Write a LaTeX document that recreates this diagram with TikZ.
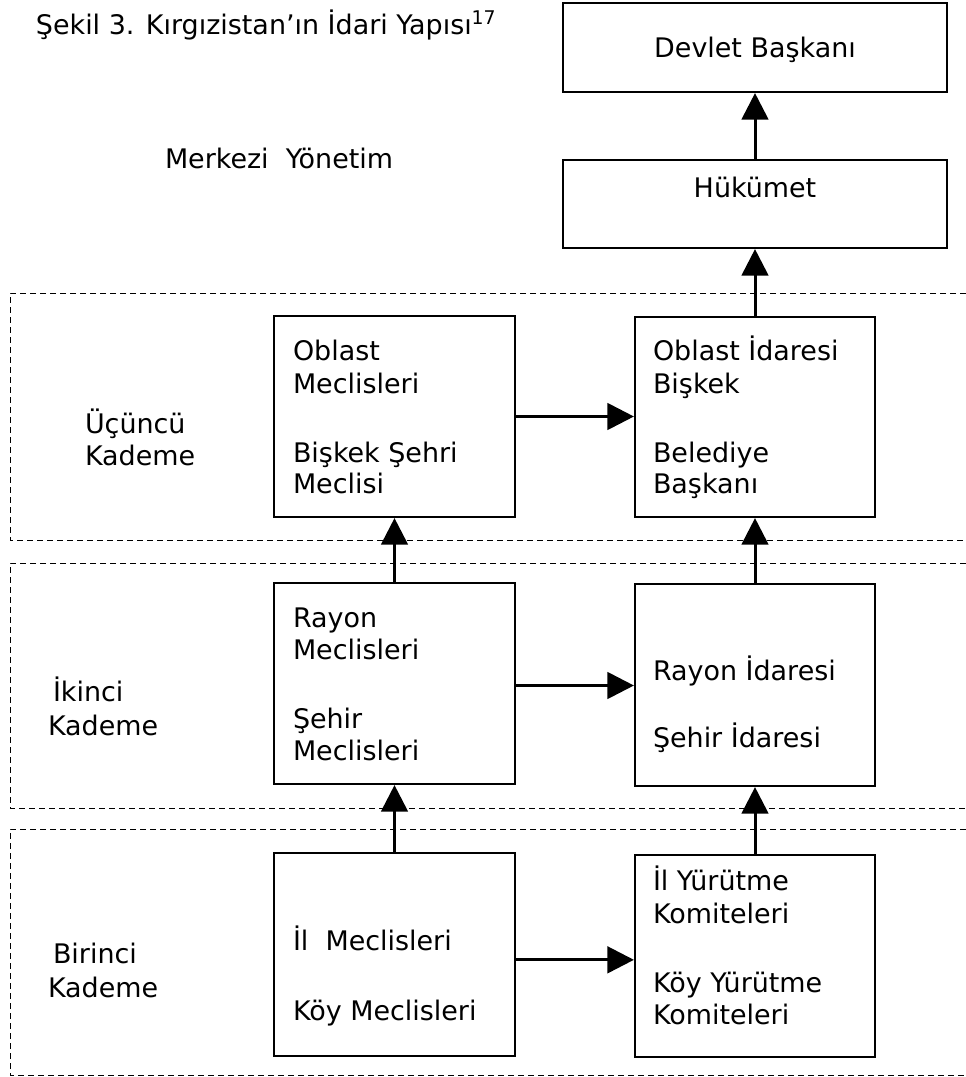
\documentclass[tikz,border=0pt]{standalone}
\usepackage{fontspec}
\setmainfont{DejaVu Sans}
\usetikzlibrary{arrows.meta}
\tikzset{
  px/.style={x=0.75pt,y=-0.75pt},
  box/.style={draw, line width=1.6pt, inner sep=0pt},
  txt/.style={inner sep=0pt, outer sep=0pt, anchor=base west, font=\fontsize{20.2}{24}\selectfont},
  ctxt/.style={txt, anchor=base},
  arr/.style={line width=2.25pt, -{Triangle[length=20pt,width=20pt]}},
  tier/.style={line width=0.75pt, dash pattern=on 4.5pt off 3pt},
}
\begin{document}
\begin{tikzpicture}[px]
\useasboundingbox (0,0) rectangle (966,1077);
\fill[white] (0,0) rectangle (966,1077);
% tiers
\draw[tier] (966,293) -- (10,293) -- (10,540) -- (966,540);
\draw[tier] (966,563) -- (10,563) -- (10,808) -- (966,808);
\draw[tier] (966,829) -- (10,829) -- (10,1075) -- (966,1075);
% boxes
\node[box, minimum width=288pt, minimum height=66.75pt] (dev) at (755,47.5) {};
\node[box, minimum width=288pt, minimum height=66pt] (huk) at (755,204) {};
\node[box, minimum width=180.75pt, minimum height=150.75pt] (om) at (394.5,416.5) {};
\node[box, minimum width=180pt, minimum height=150pt] (oi) at (755,417) {};
\node[box, minimum width=180.75pt, minimum height=150.75pt] (rm) at (394.5,683.5) {};
\node[box, minimum width=180pt, minimum height=151.5pt] (ri) at (755,685) {};
\node[box, minimum width=180.75pt, minimum height=152.25pt] (im) at (394.5,954.5) {};
\node[box, minimum width=180pt, minimum height=151.5pt] (iy) at (755,956) {};
% texts
\node[txt] (title) at (36,35) {Şekil 3. Kırgızistan’ın İdari Yapısı\textsuperscript{17}};
\node[txt] (merk) at (165,169) {Merkezi\ \ Yönetim};
\node[ctxt] (tdev) at (755,58) {Devlet Başkanı};
\node[ctxt] (thuk) at (755,197) {Hükümet};
\node[txt] (u1) at (85,433) {Üçüncü};
\node[txt] (u2) at (85,465) {Kademe};
\node[txt] (k1) at (53,701) {İkinci};
\node[txt] (k2) at (48,735) {Kademe};
\node[txt] (b1) at (53,963) {Birinci};
\node[txt] (b2) at (48,997) {Kademe};
\node[txt] (om1) at (293,360) {Oblast};
\node[txt] (om2) at (293,393) {Meclisleri};
\node[txt] (om3) at (293,462) {Bişkek Şehri};
\node[txt] (om4) at (293,493) {Meclisi};
\node[txt] (oi1) at (653,360) {Oblast İdaresi};
\node[txt] (oi2) at (653,393) {Bişkek};
\node[txt] (oi3) at (653,462) {Belediye};
\node[txt] (oi4) at (653,493) {Başkanı};
\node[txt] (rm1) at (293,627) {Rayon};
\node[txt] (rm2) at (293,659) {Meclisleri};
\node[txt] (rm3) at (293,728) {Şehir};
\node[txt] (rm4) at (293,760) {Meclisleri};
\node[txt] (ri1) at (653,680) {Rayon İdaresi};
\node[txt] (ri2) at (653,747) {Şehir İdaresi};
\node[txt] (im1) at (293,950) {İl\ \ Meclisleri};
\node[txt] (im2) at (293,1020) {Köy Meclisleri};
\node[txt] (iy1) at (653,890) {İl Yürütme};
\node[txt] (iy2) at (653,923) {Komiteleri};
\node[txt] (iy3) at (653,992) {Köy Yürütme};
\node[txt] (iy4) at (653,1024) {Komiteleri};
% connectors
\draw[arr] (huk.north) -- (dev.south);
\draw[arr] (oi.north) -- (huk.south);
\draw[arr] (ri.north) -- (oi.south);
\draw[arr] (iy.north) -- (ri.south);
\draw[arr] (rm.north) -- (om.south);
\draw[arr] (im.north) -- (rm.south);
\draw[arr] (om.east) -- (om.east -| oi.west);
\path ([yshift=-1.5pt]rm.east) coordinate (s2);
\draw[arr] (s2) -- (s2 -| ri.west);
\path ([yshift=-4pt]im.east) coordinate (s3);
\draw[arr] (s3) -- (s3 -| iy.west);
\end{tikzpicture}
\end{document}
